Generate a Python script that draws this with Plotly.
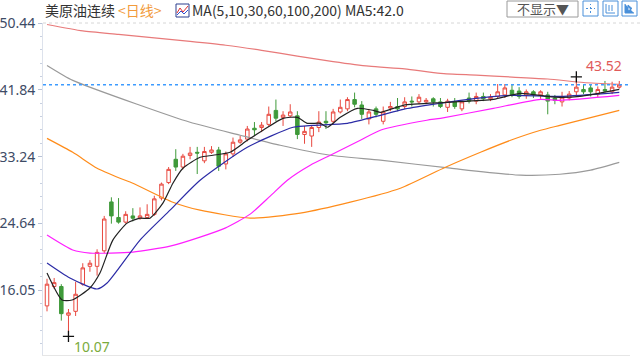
import plotly.graph_objects as go

# ---------------- data ----------------
idx = list(range(81))
opens = [14.0, 16.5, 16.5, 12.8, 13.3, 16.8, 19.1, 19.1, 21.1, 27.4,
         25.4, 24.8, 25.6, 25.3, 25.4, 25.8, 27.9, 29.9, 32.9, 31.9,
         33.4, 33.8, 32.7, 33.8, 34.1, 32.3, 33.6, 35.1, 35.5, 36.9,
         37.0, 37.4, 39.2, 38.3, 38.5, 38.5, 36.1, 35.9, 37.0, 37.8,
         37.8, 39.0, 39.4, 40.6, 39.9, 38.1, 39.4, 37.8, 39.5, 39.7,
         39.7, 40.4, 40.3, 40.3, 40.7, 40.3, 39.6, 40.3, 39.4, 40.8,
         40.4, 41.0, 40.7, 41.0, 41.2, 41.8, 41.7, 41.2, 41.6, 41.2,
         41.2, 40.8, 40.3, 40.8, 41.6, 41.9, 42.1, 41.3, 41.9, 41.6, 42.2]
highs = [17.5, 17.6, 16.8, 13.6, 17.1, 19.5, 19.9, 21.3, 25.6, 28.0,
         27.9, 26.2, 26.6, 26.7, 27.1, 28.2, 29.9, 31.9, 34.2, 33.6,
         34.5, 34.5, 34.5, 34.6, 34.5, 33.9, 35.7, 35.9, 37.2, 37.7,
         37.7, 39.7, 40.6, 39.1, 40.0, 39.1, 37.2, 37.2, 39.1, 39.1,
         39.4, 40.6, 40.9, 41.5, 40.4, 39.4, 39.7, 39.7, 40.3, 40.8,
         40.9, 41.0, 41.3, 40.8, 40.9, 40.8, 40.7, 40.8, 40.5, 41.5,
         41.5, 41.5, 41.3, 42.6, 42.6, 42.6, 42.2, 41.9, 41.8, 41.8,
         41.6, 41.2, 41.6, 41.7, 43.52, 42.5, 42.6, 42.3, 43.0, 42.9, 43.0]
lows = [13.3, 16.2, 12.1, 10.07, 12.7, 16.6, 18.4, 17.9, 20.8, 24.6,
        24.6, 24.6, 24.9, 25.1, 25.2, 25.6, 27.6, 29.7, 31.4, 31.6,
        32.9, 31.0, 32.4, 33.6, 31.4, 31.6, 33.2, 34.9, 35.2, 35.9,
        36.4, 37.2, 37.8, 37.2, 38.3, 35.5, 34.9, 34.5, 36.4, 36.8,
        37.4, 38.8, 39.1, 39.6, 38.1, 37.4, 38.3, 37.4, 39.1, 39.1,
        39.4, 39.7, 40.0, 40.0, 39.7, 39.5, 39.0, 39.4, 39.1, 40.1,
        40.0, 40.4, 40.4, 40.7, 40.8, 40.9, 40.7, 40.7, 40.8, 40.7,
        38.7, 40.0, 39.7, 40.5, 41.0, 41.3, 41.0, 40.9, 41.5, 41.3, 42.0]
closes = [16.8, 17.0, 13.0, 13.1, 15.5, 18.9, 19.5, 20.9, 25.2, 25.6,
          24.8, 25.8, 25.3, 25.6, 25.8, 27.8, 29.7, 31.6, 31.9, 33.3,
          33.7, 33.7, 33.9, 34.1, 32.0, 33.6, 35.1, 35.4, 36.8, 36.7,
          37.3, 38.7, 38.2, 38.6, 39.0, 36.1, 36.5, 37.0, 37.7, 37.6,
          39.0, 39.6, 40.6, 40.0, 38.7, 39.0, 38.7, 39.0, 39.7, 39.4,
          40.3, 40.3, 40.9, 40.5, 40.3, 39.7, 40.4, 39.7, 40.3, 40.4,
          41.0, 40.7, 40.9, 41.6, 42.1, 41.2, 41.0, 41.6, 41.2, 41.6,
          40.4, 40.5, 40.9, 41.3, 42.2, 41.6, 41.6, 41.9, 41.7, 42.2, 42.5]

ma5_x = [0, 2.1, 3.5, 6, 7.4, 9.2, 11.2, 13, 14.4, 16.2, 17.6, 19, 21.4, 23.2, 25.6,
         28, 30.2, 33, 35, 36.4, 38.2, 39.2, 41, 43.4, 45.6, 46.6, 49.8, 55.9,
         62.4, 66.2, 69.9, 71.7, 74.5, 80]
ma5_y = [18.23, 14.76, 14.76, 16.31, 18.23, 22.48, 24.67, 25.31, 25.31, 27.24, 29.82,
         31.75, 33.16, 33.42, 33.81, 35.35, 36.64, 38.18, 38.31, 37.54, 37.54, 37.03,
         38.31, 39.47, 39.21, 38.96, 39.86, 40.24, 40.63, 41.4, 41.01, 40.89, 41.01, 41.92]
ma10_x = [0, 3.2, 7, 8.4, 13, 17.2, 21.4, 28, 34.4, 37.2, 42, 46.6, 49.8, 57.8, 64.8, 71.7, 80]
ma10_y = [19.52, 17.59, 16.18, 16.95, 22.48, 26.34, 30.2, 34.45, 37.03, 37.28, 37.54,
          38.57, 39.34, 40.5, 41.14, 41.01, 41.53]
ma30_x = [0, 3.6, 6, 12, 17.2, 21.4, 24.9, 28.4, 31.2, 33.6, 36.8, 39.6, 43.8, 46.6,
          53.1, 55, 62.4, 69, 71.7, 80]
ma30_y = [23.13, 21.2, 20.81, 20.94, 21.7, 22.87, 24.03, 25.83, 28.15, 30.2, 32.13, 33.42,
          35.35, 36.64, 37.93, 38.18, 39.47, 40.63, 40.5, 41.14]
ma60_x = [0, 3.6, 7, 10.2, 12, 17.6, 21.4, 28.4, 35.4, 42.4, 49.4, 55.7, 60.6, 64.8, 69, 71.7, 80]
ma60_y = [35.6, 33.8, 31.75, 30.46, 29.82, 27.37, 26.34, 25.31, 25.96, 27.37, 29.17,
          31.88, 33.81, 35.35, 36.64, 37.28, 39.21]
ma100_x = [0, 3.6, 13, 20, 27, 32.6, 39.6, 46.6, 56.4, 66.2, 71.7, 76, 80]
ma100_y = [45.0, 43.07, 39.86, 37.67, 36.0, 34.71, 33.42, 32.78, 31.75, 30.85, 30.97, 31.5, 32.5]
ma200_x = [0, 5, 10, 15, 20, 25, 30, 35, 40, 45, 50, 55, 60, 65, 70, 75, 80]
ma200_y = [50.28, 49.45, 49.0, 48.55, 48.1, 47.6, 46.95, 46.2, 45.5, 44.9, 44.55,
           43.97, 43.75, 43.5, 43.25, 42.8, 42.55]

tick_vals = [16.05, 24.64, 33.24, 41.84, 50.44]
tick_text = ["16.05", "24.64", "33.24", "41.84", "50.44"]
last_price = 42.5
low_idx, low_val = 3, 10.07
high_idx, high_val = 74, 43.52

# ---------------- layout helpers ----------------
L, R, T, B = 43, 630, 23, 355
W, H = R - L, B - T
def px(x): return (x - L) / W
def py(y): return (B - y) / H

fig = go.Figure()
fig.add_trace(go.Candlestick(
    x=idx, open=opens, high=highs, low=lows, close=closes,
    increasing=dict(line=dict(color="#e8483f", width=1), fillcolor="#ffffff"),
    decreasing=dict(line=dict(color="#3f9a3a", width=1), fillcolor="#3f9a3a"),
    whiskerwidth=0, showlegend=False, hoverinfo="skip"))

for xs, ys, col in [(ma200_x, ma200_y, "#e87a7a"), (ma100_x, ma100_y, "#9a9a9a"),
                    (ma60_x, ma60_y, "#ff8c1a"), (ma30_x, ma30_y, "#ff1fff"),
                    (ma10_x, ma10_y, "#2b2ba6"), (ma5_x, ma5_y, "#222222")]:
    fig.add_trace(go.Scatter(x=xs, y=ys, mode="lines", showlegend=False, hoverinfo="skip",
                             line=dict(color=col, width=1.2, shape="spline", smoothing=0.6)))

fig.add_trace(go.Scatter(x=[low_idx, high_idx], y=[low_val, high_val], mode="markers",
                         showlegend=False, hoverinfo="skip",
                         marker=dict(symbol="cross-thin", size=8, line=dict(color="#111", width=1.3))))

shapes = [
    dict(type="line", xref="paper", yref="y", x0=0, x1=1, y0=last_price, y1=last_price,
         line=dict(color="#3d9bff", width=1.5, dash="3px,3px")),
    dict(type="line", xref="paper", yref="paper", x0=0, x1=px(640), y0=1, y1=1,
         line=dict(color="#d6d6d6", width=1, dash="3px,3px")),
    # MA icon
    dict(type="rect", xref="paper", yref="paper", x0=px(176), x1=px(189), y0=py(17), y1=py(4),
         line=dict(color="#2c3f8f", width=1), fillcolor="#ffffff"),
    dict(type="path", xref="paper", yref="paper",
         path=f"M {px(177)} {py(13)} L {px(180)} {py(8)} L {px(183)} {py(12)} L {px(188)} {py(6)}",
         line=dict(color="#e03030", width=1)),
    dict(type="path", xref="paper", yref="paper",
         path=f"M {px(177)} {py(15)} L {px(181)} {py(11)} L {px(184)} {py(14)} L {px(188)} {py(10)}",
         line=dict(color="#3050d0", width=1)),
    # dropdown box
    dict(type="rect", xref="paper", yref="paper", x0=px(507), x1=px(578), y0=py(17), y1=py(1),
         line=dict(color="#9a9a9a", width=1), fillcolor="#ffffff"),
]
for x0 in (583, 603, 622):
    shapes.append(dict(type="rect", xref="paper", yref="paper", x0=px(x0), x1=px(x0 + 15),
                       y0=py(16), y1=py(1), line=dict(color="#4a90d9", width=1), fillcolor="#ffffff"))
# icon glyphs
shapes += [
    dict(type="line", xref="paper", yref="paper", x0=px(590.5), x1=px(590.5), y0=py(13), y1=py(4),
         line=dict(color="#4a90d9", width=1, dash="2px,2px")),
    dict(type="line", xref="paper", yref="paper", x0=px(586), x1=px(595), y0=py(8.5), y1=py(8.5),
         line=dict(color="#4a90d9", width=1, dash="2px,2px")),
    dict(type="path", xref="paper", yref="paper",
         path=f"M {px(606)} {py(4)} L {px(606)} {py(13)} L {px(615)} {py(13)} M {px(609)} {py(5)} L {px(609)} {py(11)} M {px(612)} {py(5)} L {px(612)} {py(11)}",
         line=dict(color="#4a90d9", width=1)),
    dict(type="path", xref="paper", yref="paper",
         path=f"M {px(625)} {py(4)} L {px(625)} {py(13)} L {px(634)} {py(13)} M {px(628)} {py(5)} L {px(632)} {py(8.5)} L {px(628)} {py(11)} Z",
         line=dict(color="#4a90d9", width=1), fillcolor="#4a90d9"),
]

font_cjk = "Noto Sans CJK SC, Noto Sans, sans-serif"
annotations = [
    dict(text="美原油连续", x=px(43), y=py(10), xref="paper", yref="paper", xanchor="left",
         yanchor="middle", showarrow=False, font=dict(size=14, color="#333333", family=font_cjk)),
    dict(text="&lt;日线&gt;", x=px(116), y=py(10), xref="paper", yref="paper", xanchor="left",
         yanchor="middle", showarrow=False, font=dict(size=14, color="#f29b3c", family=font_cjk)),
    dict(text="MA(5,10,30,60,100,200) MA5:42.0", x=px(190), y=py(10), xref="paper", yref="paper",
         xanchor="left", yanchor="middle", showarrow=False,
         font=dict(size=14, color="#333333", family=font_cjk)),
    dict(text="不显示▼", x=px(542.5), y=py(9), xref="paper", yref="paper", xanchor="center",
         yanchor="middle", showarrow=False, font=dict(size=13, color="#555555", family=font_cjk)),
    dict(text=f"{low_val:.2f}", x=low_idx, y=low_val, xref="x", yref="y", xanchor="left",
         yanchor="middle", xshift=4, yshift=-10, showarrow=False,
         font=dict(size=14, color="#7aab3c", family="Noto Sans, sans-serif")),
    dict(text=f"{high_val:.2f}", x=high_idx, y=high_val, xref="x", yref="y", xanchor="left",
         yanchor="bottom", xshift=8, yshift=0, showarrow=False,
         font=dict(size=14, color="#e05a5a", family="Noto Sans, sans-serif")),
]

fig.update_layout(
    width=640, height=360, autosize=False,
    margin=dict(l=L, r=640 - R, t=T, b=360 - B, autoexpand=False),
    paper_bgcolor="#ffffff", plot_bgcolor="#ffffff",
    shapes=shapes, annotations=annotations,
    xaxis=dict(range=[-0.56, 81.5], visible=True, showticklabels=False, showgrid=False,
               zeroline=False, ticks="", showline=True, linecolor="#e6e6e6",
               rangeslider=dict(visible=False), fixedrange=True, automargin=False),
    yaxis=dict(range=[7.67, 50.47], tickvals=tick_vals, ticktext=tick_text, showgrid=False,
               zeroline=False, showline=True, linecolor="#dde2ec", ticks="outside", ticklen=4,
               tickcolor="#b8c2d6", tickfont=dict(size=14, color="#3e4b66",
                                                 family="Noto Sans, sans-serif"),
               minor=dict(tick0=16.05, dtick=1.7195, ticks="outside", ticklen=2,
                          tickcolor="#c8d0e0", showgrid=False),
               fixedrange=True, automargin=False),
    showlegend=False,
)

fig.write_html("out.html", config={"displayModeBar": False},
               post_script="document.body.style.margin='0';document.body.style.padding='0';")
